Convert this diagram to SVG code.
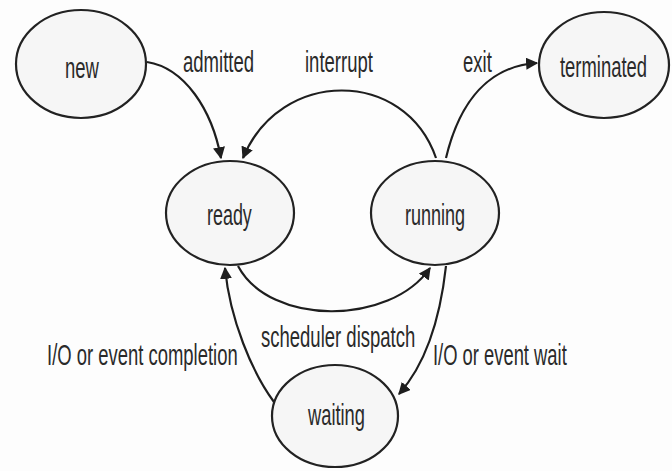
<svg xmlns="http://www.w3.org/2000/svg" width="672" height="471" viewBox="0 0 672 471">
<style>
.node ellipse{fill:#f6f6f6;stroke:#222;stroke-width:2.2}
text{font-family:"Liberation Sans",Arial,sans-serif;font-size:29px;fill:#2a2a2a}
.edge{fill:none;stroke:#1e1e1e;stroke-width:2.2;marker-end:url(#ah)}
</style>
<defs>
<marker id="ah" viewBox="0 0 10 10" refX="9" refY="5" markerWidth="5.5" markerHeight="5.5" orient="auto" markerUnits="strokeWidth">
<path d="M0,0 L10,5 L0,10 z" fill="#1e1e1e"/>
</marker>
</defs>
<rect width="672" height="471" fill="#fdfdfd"/>
<g id="connectors">
<path class="edge" d="M147,62 C185,68 212,110 221,158"/>
<path class="edge" d="M436,158 C405,68 280,68 243,158"/>
<path class="edge" d="M446,158 C460,100 490,66 537,63"/>
<path class="edge" d="M238,266 C270,326 390,326 430,268"/>
<path class="edge" d="M446,266 C440,320 425,365 399,394"/>
<path class="edge" d="M274,402 C252,372 230,320 225,268"/>
<text transform="translate(183,72) scale(0.64,1)" textLength="111" lengthAdjust="spacingAndGlyphs">admitted</text>
<text transform="translate(305,72) scale(0.64,1)" textLength="106" lengthAdjust="spacingAndGlyphs">interrupt</text>
<text transform="translate(463,72) scale(0.64,1)" textLength="45" lengthAdjust="spacingAndGlyphs">exit</text>
<text transform="translate(261,347) scale(0.64,1)" textLength="241" lengthAdjust="spacingAndGlyphs">scheduler dispatch</text>
<text transform="translate(47,365) scale(0.64,1)" textLength="298" lengthAdjust="spacingAndGlyphs">I/O or event completion</text>
<text transform="translate(433,365) scale(0.64,1)" textLength="209" lengthAdjust="spacingAndGlyphs">I/O or event wait</text>
</g>
<g id="new" class="node">
<ellipse cx="81" cy="64" rx="65" ry="54"/>
<text transform="translate(65,78) scale(0.64,1)" textLength="53" lengthAdjust="spacingAndGlyphs">new</text>
</g>
<g id="terminated" class="node">
<ellipse cx="604" cy="65" rx="65" ry="53"/>
<text transform="translate(560,77) scale(0.64,1)" textLength="136" lengthAdjust="spacingAndGlyphs">terminated</text>
</g>
<g id="ready" class="node">
<ellipse cx="230" cy="213" rx="64" ry="52"/>
<text transform="translate(207,225) scale(0.64,1)" textLength="70" lengthAdjust="spacingAndGlyphs">ready</text>
</g>
<g id="running" class="node">
<ellipse cx="435" cy="213" rx="64" ry="52"/>
<text transform="translate(405,225) scale(0.64,1)" textLength="94" lengthAdjust="spacingAndGlyphs">running</text>
</g>
<g id="waiting" class="node">
<ellipse cx="335" cy="416" rx="63" ry="51"/>
<text transform="translate(308,425) scale(0.64,1)" textLength="89" lengthAdjust="spacingAndGlyphs">waiting</text>
</g>
</svg>
